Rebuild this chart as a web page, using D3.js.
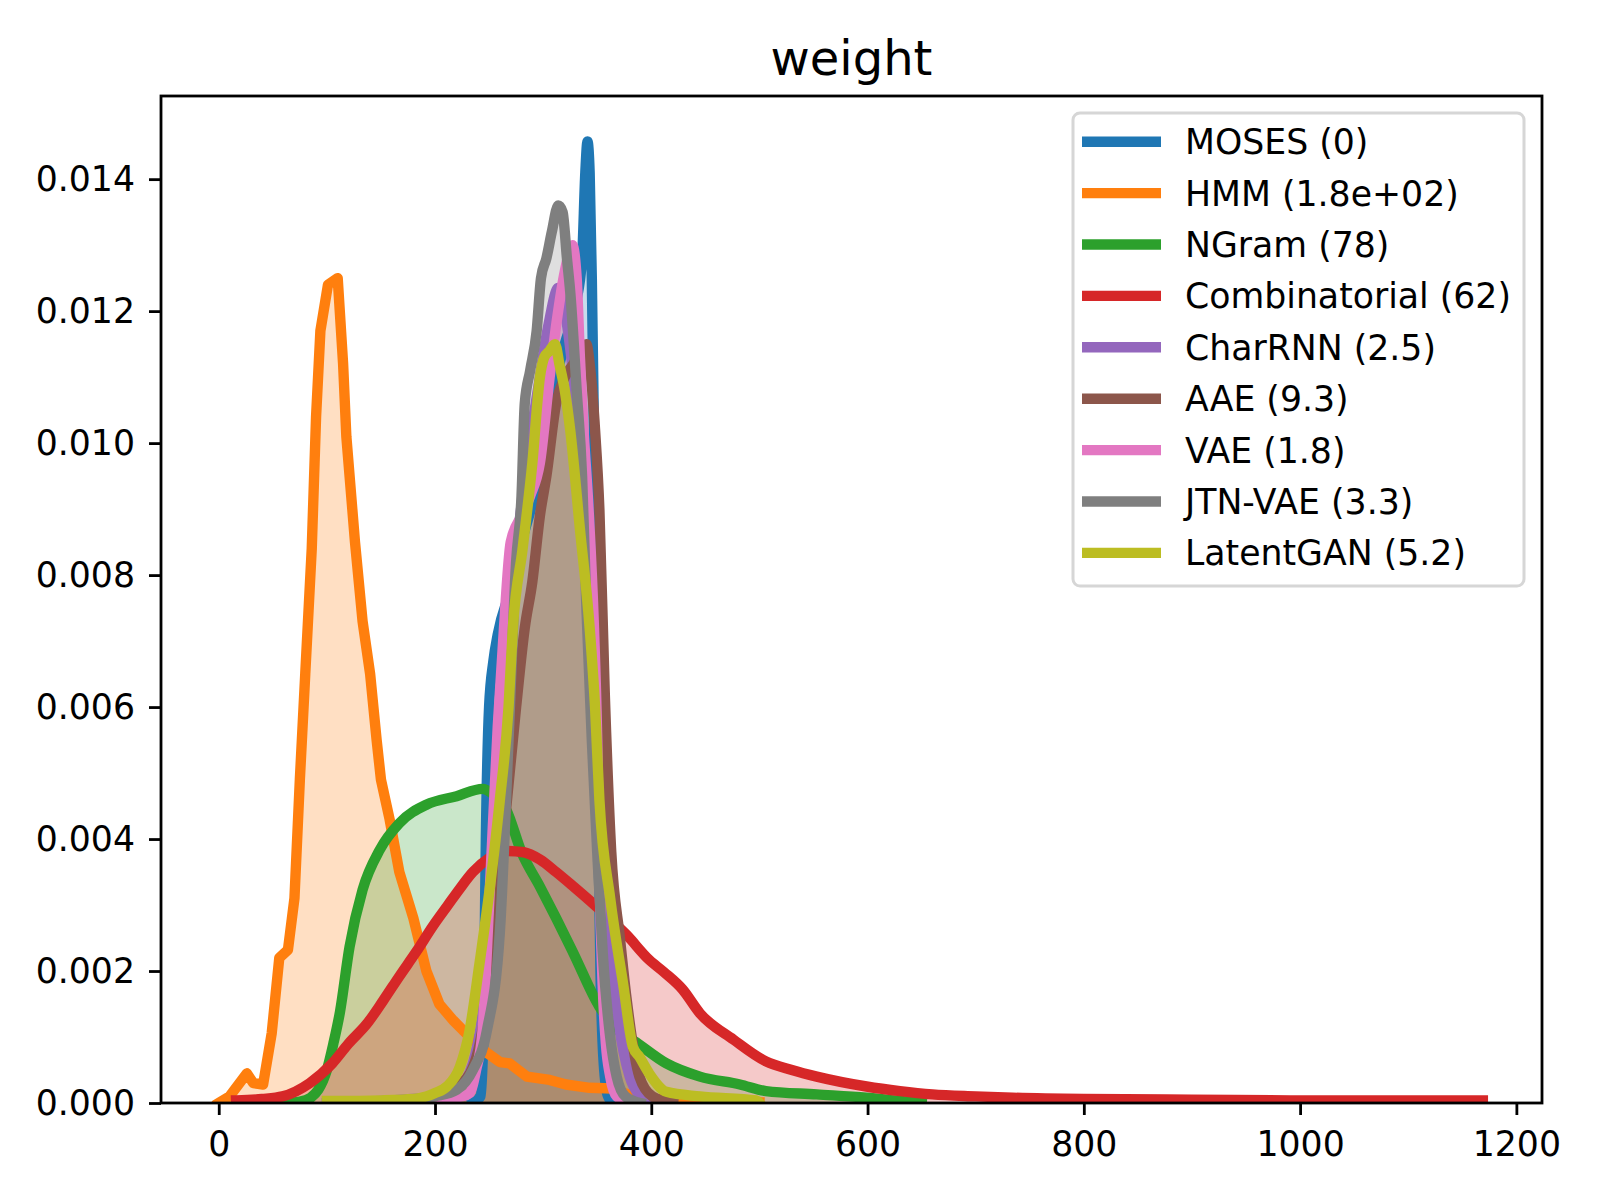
<!DOCTYPE html>
<html>
<head>
<meta charset="utf-8">
<script src="https://cdn.jsdelivr.net/npm/d3@7"></script>
<style>
  body { margin: 0; background: #fff; }
  svg { display: block; font-family: 'DejaVu Sans', sans-serif; }
</style>
</head>
<body>
<svg id="chart" width="1600" height="1200"></svg>
<script>
/* global d3 */

var names = ['MOSES', 'HMM', 'NGram', 'Combinatorial', 'CharRNN', 'AAE', 'VAE', 'JTN-VAE', 'LatentGAN']
var scores = ['0', '1.8e+02', '78', '62', '2.5', '9.3', '1.8', '3.3', '5.2']
var colors = ['#1f77b4', '#ff7f0e', '#2ca02c', '#d62728', '#9467bd', '#8c564b', '#e377c2', '#7f7f7f', '#bcbd22']

// [weight, density]
var moses = [[235, 0], [242, 0.0001], [245, 0.0012], [247, 0.004], [250, 0.006], [254, 0.0067], [258, 0.0071],
  [270, 0.0078], [280, 0.0085], [290, 0.0091], [300, 0.01], [309, 0.0108], [320, 0.0115], [330, 0.0121],
  [336, 0.0128], [339, 0.0141], [341, 0.01457], [343, 0.0141], [345, 0.0125], [347, 0.0102], [349, 0.0072],
  [351, 0.0042], [353, 0.002], [356, 0.0006], [360, 0.0001], [365, 0]]
var hmm = [[0, 0], [10, 0.0001], [26, 0.00045], [32, 0.0003], [41, 0.00028], [49, 0.00106], [56, 0.0022],
  [64, 0.00232], [70, 0.0031], [75, 0.0049], [80, 0.0065], [86, 0.0084], [90, 0.0104], [94, 0.0117],
  [101, 0.0124], [110, 0.0125], [115, 0.0112], [118, 0.0101], [126, 0.0085], [133, 0.0073], [140, 0.0065],
  [146, 0.0055], [150, 0.0049], [158, 0.0043], [167, 0.0035], [180, 0.0028], [192, 0.002], [204, 0.0015],
  [217, 0.00125], [226, 0.0011], [248, 0.00076], [260, 0.00062], [269, 0.0006], [285, 0.0004], [306, 0.00035],
  [321, 0.00028], [343, 0.00023], [364, 0.00022], [380, 0.00012], [400, 0.00006], [450, 0.00003], [500, 0.00001]]
var ngram = [[60, 0], [75, 0.00002], [85, 0.00008], [92, 0.0002], [100, 0.0005], [106, 0.0009], [112, 0.00137],
  [121, 0.00237], [133, 0.00323], [149, 0.00384], [167, 0.00424], [192, 0.00452], [220, 0.00465], [244, 0.00476],
  [252, 0.0047], [266, 0.00444], [280, 0.0038], [297, 0.00328], [312, 0.0028], [328, 0.00227], [352, 0.00146],
  [370, 0.0011], [386, 0.00092], [414, 0.0006], [445, 0.0004], [482, 0.00028], [506, 0.00018], [553, 0.00013],
  [599, 0.00008], [630, 0.00003], [650, 0]]
var combinatorial = [[16, 0.00004], [40, 0.00006], [59, 0.0001], [84, 0.0003], [105, 0.0006], [120, 0.0009],
  [137, 0.0012], [152, 0.00155], [167, 0.00192], [183, 0.0023], [198, 0.00268], [212, 0.003], [223, 0.00325],
  [235, 0.0035], [250, 0.00371], [266, 0.00382], [282, 0.0038], [297, 0.00369], [312, 0.0035], [328, 0.00328],
  [349, 0.00298], [377, 0.00255], [398, 0.00217], [412, 0.00198], [429, 0.00172], [445, 0.00136], [476, 0.00096],
  [506, 0.00063], [530, 0.0005], [553, 0.0004], [599, 0.00025], [630, 0.00018], [660, 0.00013], [700, 0.0001],
  [734, 0.00008], [800, 0.00006], [900, 0.00005], [1000, 0.00004], [1100, 0.00004], [1169, 0.00004]]
var charRNN = [[100, 0], [150, 0.00003], [200, 0.0001], [220, 0.0002], [235, 0.0006], [245, 0.0015], [255, 0.0035],
  [265, 0.006], [275, 0.0083], [285, 0.0097], [295, 0.0108], [305, 0.0118], [314, 0.01235], [320, 0.012],
  [328, 0.011], [336, 0.0095], [344, 0.0075], [352, 0.005], [360, 0.0028], [370, 0.0012], [380, 0.0004],
  [390, 0.0001], [400, 0]]
var aae = [[150, 0], [200, 0.0001], [225, 0.0003], [240, 0.0008], [250, 0.0018], [258, 0.003], [266, 0.0045],
  [275, 0.006], [283, 0.0072], [290, 0.0079], [297, 0.0089], [303, 0.0095], [312, 0.0106], [320, 0.011],
  [328, 0.0112], [335, 0.0114], [340, 0.0115], [343, 0.0112], [348, 0.0102], [352, 0.009], [357, 0.0062],
  [363, 0.0038], [371, 0.0025], [377, 0.0016], [389, 0.0004], [401, 0.0001], [420, 0]]
var vae = [[140, 0], [200, 0.00005], [225, 0.0001], [232, 0.00015], [238, 0.0005], [244, 0.0011], [250, 0.003],
  [258, 0.0057], [263, 0.007], [270, 0.0085], [280, 0.0089], [288, 0.0092], [297, 0.0097], [306, 0.011],
  [313, 0.0119], [320, 0.0126], [327, 0.013], [331, 0.0125], [334, 0.0113], [337, 0.0103], [342, 0.009],
  [347, 0.0072], [350, 0.0055], [352, 0.0035], [355, 0.0018], [358, 0.0009], [362, 0.0004], [368, 0.0001], [380, 0]]
var jtnVAE = [[150, 0], [200, 0.0001], [220, 0.0002], [235, 0.0005], [248, 0.0011], [260, 0.0026], [268, 0.0055],
  [275, 0.0082], [280, 0.0092], [283, 0.0106], [288, 0.0111], [294, 0.0117], [298, 0.0125], [303, 0.0128],
  [308, 0.0132], [314, 0.0136], [318, 0.0135], [322, 0.0128], [325, 0.0123], [331, 0.0108], [336, 0.0095],
  [340, 0.0075], [345, 0.0055], [350, 0.0038], [355, 0.0023], [362, 0.001], [368, 0.0004], [376, 0.0001], [390, 0]]
var latentGAN = [[100, 0.00003], [150, 0.00004], [180, 0.00006], [192, 0.0001], [200, 0.00015], [211, 0.00025],
  [223, 0.00055], [232, 0.0011], [241, 0.0021], [251, 0.0033], [260, 0.0046], [268, 0.006], [272, 0.0072],
  [281, 0.0084], [290, 0.0097], [297, 0.011], [301, 0.0113], [306, 0.0114], [311, 0.0115], [315, 0.0112],
  [320, 0.0108], [325, 0.0102], [334, 0.0087], [343, 0.0072], [348, 0.006], [352, 0.0046], [362, 0.0031],
  [374, 0.0018], [383, 0.00085], [389, 0.0007], [398, 0.00045], [414, 0.00017], [445, 0.0001], [497, 0.00004], [500, 0]]

var series = [moses, hmm, ngram, combinatorial, charRNN, aae, vae, jtnVAE, latentGAN]

var xTicks = [0, 200, 400, 600, 800, 1000, 1200]
var yTicks = [0, 0.002, 0.004, 0.006, 0.008, 0.010, 0.012, 0.014]

var margin = {
  top: 96,
  right: 58,
  bottom: 97,
  left: 161
}

var width = 1600 - margin.left - margin.right
var height = 1200 - margin.top - margin.bottom

var svg = d3.select('#chart')
var g = svg.append('g')
    .attr('transform', 'translate(' + margin.left + ',' + margin.top + ')')

g.append('clipPath')
    .attr('id', 'plot-clip')
  .append('rect')
    .attr('width', width)
    .attr('height', height)

var x = d3.scaleLinear().domain([-53.4, 1223.7]).range([0, width])
var y = d3.scaleLinear().domain([0, 0.01526]).range([height, 0])

var area = d3.area()
    .x(d => x(d[0]))
    .y0(height)
    .y1(d => y(d[1]))

var line = d3.line()
    .x(d => x(d[0]))
    .y(d => y(d[1]))

// HMM is drawn as straight segments, the rest smooth
function curveFor (i) {
  return i === 1 ? d3.curveLinear : d3.curveMonotoneX
}

var plot = g.append('g')
    .attr('clip-path', 'url(#plot-clip)')

// shaded areas sit under every line
plot.selectAll('.area')
    .data(series)
  .enter().append('path')
    .attr('class', 'area')
    .attr('d', (d, i) => area.curve(curveFor(i))(d))
    .attr('fill', (d, i) => colors[i])
    .attr('fill-opacity', 0.25)
    .attr('stroke', 'none')

plot.selectAll('.line')
    .data(series)
  .enter().append('path')
    .attr('class', 'line')
    .attr('d', (d, i) => line.curve(curveFor(i))(d))
    .attr('fill', 'none')
    .attr('stroke', (d, i) => colors[i])
    .attr('stroke-width', 10.4)
    .attr('stroke-linejoin', 'round')
    .attr('stroke-linecap', 'square')

var xAxis = d3.axisBottom(x).tickValues(xTicks).tickSize(12).tickPadding(16).tickSizeOuter(0)
    .tickFormat(d3.format('d'))
var yAxis = d3.axisLeft(y).tickValues(yTicks).tickSize(12).tickPadding(14).tickSizeOuter(0)
    .tickFormat(d3.format('.3f'))

g.append('g')
    .attr('class', 'x axis')
    .attr('transform', 'translate(0,' + height + ')')
    .call(xAxis)

g.append('g')
    .attr('class', 'y axis')
    .call(yAxis)

g.selectAll('.axis .domain').remove()
g.selectAll('.axis line')
    .attr('stroke', '#000')
    .attr('stroke-width', 2.8)
g.selectAll('.axis text')
    .attr('fill', '#000')
    .style('font-family', "'DejaVu Sans', sans-serif")
    .style('font-size', '34.7px')

g.append('rect')
    .attr('x', 0)
    .attr('y', 0)
    .attr('width', width)
    .attr('height', height)
    .attr('fill', 'none')
    .attr('stroke', '#000')
    .attr('stroke-width', 2.8)

g.append('text')
    .attr('x', width / 2)
    .attr('y', -21)
    .attr('text-anchor', 'middle')
    .style('font-size', '48px')
    .text('weight')

// legend
var legend = svg.append('g')
    .attr('transform', 'translate(1073,113)')

legend.append('rect')
    .attr('width', 451)
    .attr('height', 473)
    .attr('rx', 7)
    .attr('fill', '#fff')
    .attr('fill-opacity', 0.8)
    .attr('stroke', '#d6d6d6')
    .attr('stroke-width', 3)

var rows = legend.selectAll('.row')
    .data(names)
  .enter().append('g')
    .attr('class', 'row')
    .attr('transform', (d, i) => 'translate(0,' + (28.7 + i * 51.4) + ')')

rows.append('line')
    .attr('x1', 9)
    .attr('x2', 88)
    .attr('stroke', (d, i) => colors[i])
    .attr('stroke-width', 10.4)

rows.append('text')
    .attr('x', 112)
    .attr('dy', '0.36em')
    .style('font-size', '34.7px')
    .text((d, i) => d + ' (' + scores[i] + ')')
</script>
</body>
</html>
